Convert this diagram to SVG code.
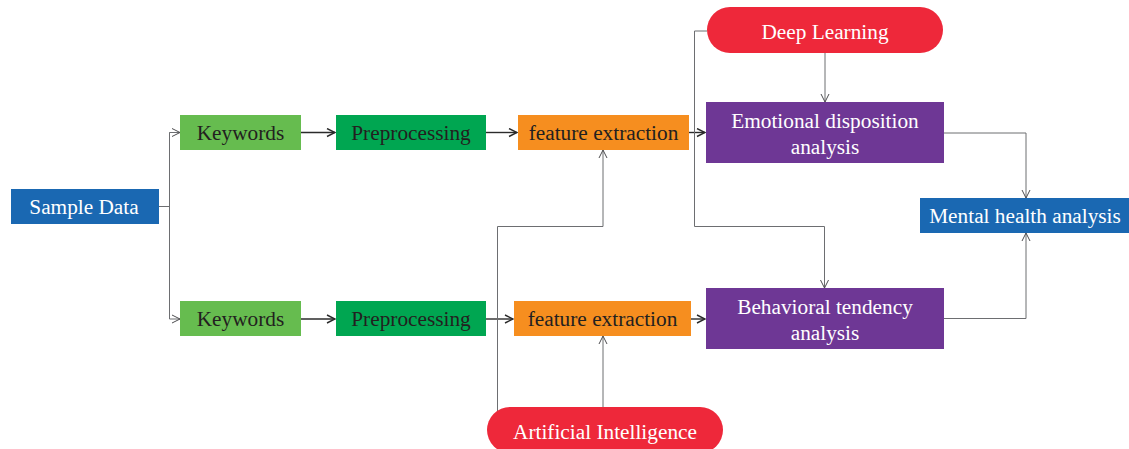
<svg xmlns="http://www.w3.org/2000/svg" width="1129" height="449" viewBox="0 0 1129 449">
  <style>
    .lbl { font-family: "Liberation Serif", "DejaVu Serif", serif; font-size: 21.3px; text-anchor: middle; }
    .dark { fill: #231f20; }
    .light { fill: #ffffff; }
    .main { fill: none; stroke: #2b2b2b; stroke-width: 1.4; marker-end: url(#arrow); }
    .thin { fill: none; stroke: #6d6e71; stroke-width: 1; }
    .thinA { fill: none; stroke: #6d6e71; stroke-width: 1; marker-end: url(#arrowThin); }
  </style>
  <defs>
    <marker id="arrow" viewBox="0 0 10 10" refX="9" refY="5" markerWidth="10" markerHeight="10" markerUnits="userSpaceOnUse" orient="auto">
      <path d="M1,1 L9,5 L1,9" fill="none" stroke="#2b2b2b" stroke-width="1.4"/>
    </marker>
    <marker id="arrowThin" viewBox="0 0 10 10" refX="9" refY="5" markerWidth="10" markerHeight="10" markerUnits="userSpaceOnUse" orient="auto">
      <path d="M1,1 L9,5 L1,9" fill="none" stroke="#4d4d4f" stroke-width="1"/>
    </marker>
  </defs>

  <g id="connectors">
    <!-- sample data fan-out -->
    <path class="thin" d="M159,206.5 H169.5"/>
    <path class="thinA" d="M169.5,133 V132.5 H180"/>
    <path class="thin" d="M169.5,132.5 V319"/>
    <path class="thinA" d="M169.5,319 H180"/>
    <!-- upper row -->
    <path class="main" d="M301,132.5 H335"/>
    <path class="main" d="M486,132.5 H517"/>
    <path class="main" d="M689,132.5 H705"/>
    <!-- lower row -->
    <path class="main" d="M301,319 H335"/>
    <path class="main" d="M486,319 H513"/>
    <path class="main" d="M691,319 H705"/>
    <!-- deep learning -->
    <path class="thinA" d="M825,53 V102"/>
    <path class="thinA" d="M707,31 H694.5 V226.5 H824.5 V288"/>
    <!-- artificial intelligence -->
    <path class="thinA" d="M603,407 V336"/>
    <path class="thinA" d="M497.5,412 V226.5 H603 V150"/>
    <!-- into mental health analysis -->
    <path class="thinA" d="M944,133 H1026 V198"/>
    <path class="thinA" d="M944,318.5 H1026 V233"/>
  </g>

  <g id="sample-data">
    <rect x="11" y="189" width="148" height="35" fill="#1a68b2"/>
    <text class="lbl light" x="84" y="214">Sample Data</text>
  </g>
  <g id="keywords-1">
    <rect x="180" y="115" width="121" height="35" fill="#66bc4f"/>
    <text class="lbl dark" x="240.5" y="140">Keywords</text>
  </g>
  <g id="keywords-2">
    <rect x="180" y="301" width="121" height="35" fill="#66bc4f"/>
    <text class="lbl dark" x="240.5" y="326">Keywords</text>
  </g>
  <g id="preprocessing-1">
    <rect x="336" y="115" width="150" height="35" fill="#00a651"/>
    <text class="lbl dark" x="411" y="140">Preprocessing</text>
  </g>
  <g id="preprocessing-2">
    <rect x="336" y="301" width="150" height="35" fill="#00a651"/>
    <text class="lbl dark" x="411" y="326">Preprocessing</text>
  </g>
  <g id="feature-extraction-1">
    <rect x="518" y="115" width="171" height="35" fill="#f68e1f"/>
    <text class="lbl dark" x="603.5" y="140">feature extraction</text>
  </g>
  <g id="feature-extraction-2">
    <rect x="514" y="301" width="177" height="35" fill="#f68e1f"/>
    <text class="lbl dark" x="602.5" y="326">feature extraction</text>
  </g>
  <g id="deep-learning">
    <rect x="707" y="7" width="236" height="46" rx="23" ry="23" fill="#ee283a"/>
    <text class="lbl light" x="825" y="39">Deep Learning</text>
  </g>
  <g id="artificial-intelligence">
    <rect x="487" y="407" width="236" height="46" rx="23" ry="23" fill="#ee283a"/>
    <text class="lbl light" x="605" y="439">Artificial Intelligence</text>
  </g>
  <g id="emotional-disposition">
    <rect x="706" y="102" width="238" height="61" fill="#6e3795"/>
    <text class="lbl light" x="825" y="128">Emotional disposition</text>
    <text class="lbl light" x="825" y="154">analysis</text>
  </g>
  <g id="behavioral-tendency">
    <rect x="706" y="288" width="238" height="61" fill="#6e3795"/>
    <text class="lbl light" x="825" y="314">Behavioral tendency</text>
    <text class="lbl light" x="825" y="340">analysis</text>
  </g>
  <g id="mental-health">
    <rect x="920" y="198" width="209" height="35" fill="#1a68b2"/>
    <text class="lbl light" x="1025" y="223">Mental health analysis</text>
  </g>
</svg>
